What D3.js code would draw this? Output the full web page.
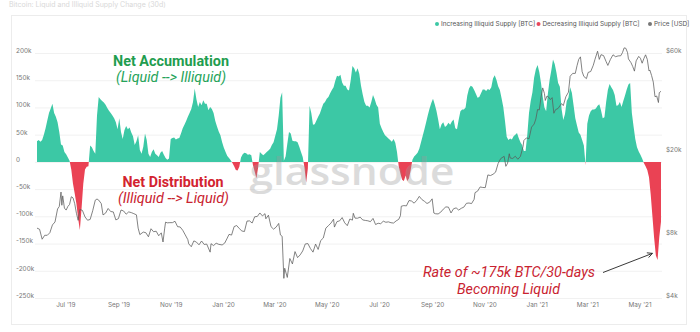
<!DOCTYPE html>
<html><head><meta charset="utf-8">
<script src="https://cdn.jsdelivr.net/npm/d3@7"></script>
<style>body{margin:0;background:#fff;} svg{display:block;}</style>
</head><body><svg id="c" width="700" height="332"></svg>
<script>
// ---------- DATA ----------
const areaStart = "2019-05-29";
const areaStepDays = 2;
// Net change of illiquid supply (thousands of BTC), every 2 days
const supplyChangeK = [
38,40,37,40,50,62,76,90,98,107,
90,83,73,55,32,30,18,14,8,2,
-14,-40,-58,-77,-104,-125,-85,-40,-14,-9,
-8,30,27,20,15,85,119,115,112,109,
105,99,94,90,85,80,73,60,80,55,
42,58,66,60,63,54,47,31,38,49,
22,15,28,52,40,15,9,18,23,15,
12,9,17,20,13,7,4,6,42,44,
45,41,43,44,52,62,68,75,83,90,
97,110,135,115,101,110,104,113,107,107,
95,101,97,90,75,65,56,49,36,26,
18,11,7,3,-2,-8,-15,-16,-9,8,
14,17,16,13,14,12,-6,-18,-30,-10,
18,15,12,15,18,21,24,31,36,48,
60,85,118,128,2,10,33,55,52,39,
38,38,36,28,18,9,-10,-38,-12,103,
90,68,69,76,83,89,98,107,110,116,
119,126,132,137,149,158,157,160,146,140,
140,133,131,150,176,172,164,172,162,140,
124,110,103,103,100,110,123,115,105,100,
70,62,55,49,46,43,40,37,42,35,
18,-8,-22,-33,-35,-25,-35,-30,-15,4,
10,13,17,24,36,48,60,73,86,98,
108,116,106,94,78,60,69,73,64,67,
72,68,74,78,62,60,78,93,96,96,
100,122,135,140,138,132,125,118,119,126,
133,133,130,134,132,137,153,159,151,139,
132,117,101,75,46,40,43,41,47,50,
53,44,36,31,20,20,50,90,112,128,
155,170,178,165,145,120,100,93,125,150,
168,188,180,164,145,138,97,77,88,112,
118,137,127,104,80,67,54,50,40,30,
-6,70,85,93,96,96,98,103,106,95,
80,82,110,132,143,137,132,123,103,104,
110,101,112,122,133,142,145,90,65,42,
27,19,13,6,-2,-8,-15,-28,-60,-100,
-140,-172,-180,-138,-110
];

const priceDates = [
"2019-05-29","2019-06-01","2019-06-04","2019-06-07","2019-06-10","2019-06-13","2019-06-16","2019-06-19","2019-06-22","2019-06-24","2019-06-26","2019-06-27","2019-06-28","2019-06-30",
"2019-07-02","2019-07-04","2019-07-06","2019-07-08","2019-07-10","2019-07-12","2019-07-14","2019-07-16","2019-07-18","2019-07-21","2019-07-24","2019-07-27","2019-07-30",
"2019-08-02","2019-08-05","2019-08-07","2019-08-09","2019-08-12","2019-08-14","2019-08-17","2019-08-20","2019-08-23","2019-08-26","2019-08-29",
"2019-09-01","2019-09-04","2019-09-07","2019-09-10","2019-09-13","2019-09-16","2019-09-19","2019-09-22","2019-09-24","2019-09-26","2019-09-30",
"2019-10-03","2019-10-06","2019-10-09","2019-10-12","2019-10-15","2019-10-18","2019-10-21","2019-10-23","2019-10-25","2019-10-26","2019-10-28","2019-10-31",
"2019-11-03","2019-11-06","2019-11-09","2019-11-12","2019-11-15","2019-11-18","2019-11-21","2019-11-22","2019-11-25","2019-11-28",
"2019-12-01","2019-12-04","2019-12-07","2019-12-10","2019-12-13","2019-12-17","2019-12-18","2019-12-21","2019-12-24","2019-12-27","2019-12-31",
"2020-01-03","2020-01-06","2020-01-08","2020-01-11","2020-01-14","2020-01-17","2020-01-20","2020-01-23","2020-01-26","2020-01-29",
"2020-02-01","2020-02-04","2020-02-07","2020-02-10","2020-02-13","2020-02-16","2020-02-19","2020-02-20","2020-02-23","2020-02-26","2020-02-29",
"2020-03-03","2020-03-06","2020-03-08","2020-03-10","2020-03-12","2020-03-13","2020-03-16","2020-03-19","2020-03-22","2020-03-25","2020-03-28","2020-03-31",
"2020-04-03","2020-04-06","2020-04-09","2020-04-12","2020-04-15","2020-04-18","2020-04-21","2020-04-24","2020-04-27","2020-04-30",
"2020-05-03","2020-05-06","2020-05-09","2020-05-10","2020-05-13","2020-05-16","2020-05-19","2020-05-22","2020-05-25","2020-05-28","2020-05-31",
"2020-06-01","2020-06-03","2020-06-06","2020-06-09","2020-06-12","2020-06-15","2020-06-18","2020-06-21","2020-06-24","2020-06-27","2020-06-30",
"2020-07-03","2020-07-06","2020-07-09","2020-07-12","2020-07-15","2020-07-18","2020-07-21","2020-07-24","2020-07-26","2020-07-27","2020-07-30",
"2020-08-02","2020-08-05","2020-08-08","2020-08-11","2020-08-14","2020-08-17","2020-08-20","2020-08-23","2020-08-26","2020-08-29",
"2020-09-01","2020-09-03","2020-09-05","2020-09-08","2020-09-11","2020-09-14","2020-09-17","2020-09-20","2020-09-23","2020-09-26","2020-09-29",
"2020-10-02","2020-10-05","2020-10-08","2020-10-11","2020-10-14","2020-10-17","2020-10-20","2020-10-21","2020-10-24","2020-10-27","2020-10-30",
"2020-11-02","2020-11-05","2020-11-08","2020-11-11","2020-11-14","2020-11-17","2020-11-20","2020-11-24","2020-11-26","2020-11-28","2020-11-30",
"2020-12-01","2020-12-04","2020-12-07","2020-12-10","2020-12-13","2020-12-16","2020-12-17","2020-12-20","2020-12-23","2020-12-26","2020-12-29","2020-12-31",
"2021-01-02","2021-01-04","2021-01-06","2021-01-08","2021-01-10","2021-01-11","2021-01-13","2021-01-15","2021-01-17","2021-01-19","2021-01-21","2021-01-23","2021-01-26","2021-01-28","2021-01-30",
"2021-02-01","2021-02-04","2021-02-07","2021-02-09","2021-02-12","2021-02-15","2021-02-17","2021-02-19","2021-02-21","2021-02-23","2021-02-25","2021-02-28",
"2021-03-02","2021-03-05","2021-03-08","2021-03-10","2021-03-13","2021-03-15","2021-03-17","2021-03-20","2021-03-23","2021-03-25","2021-03-28","2021-03-31",
"2021-04-03","2021-04-06","2021-04-09","2021-04-11","2021-04-13","2021-04-15","2021-04-17","2021-04-18","2021-04-21","2021-04-23","2021-04-25","2021-04-27","2021-04-30",
"2021-05-02","2021-05-04","2021-05-06","2021-05-08","2021-05-10","2021-05-12","2021-05-13","2021-05-15","2021-05-17","2021-05-19","2021-05-21","2021-05-23","2021-05-24","2021-05-26"
];
const priceUSD = [
8660,8550,7660,8000,8000,8230,8970,9270,10700,11000,12900,11150,12370,10800,
10570,11000,11250,12250,12100,11350,10200,9440,10650,10530,9800,9450,9530,
10500,11800,11950,11800,11350,10020,10220,10760,10400,10360,9480,
9620,10580,10470,10100,10360,10280,10160,10030,8660,8060,8290,
8230,7870,8600,8320,8370,7960,8220,7430,8660,9250,9180,9200,
9200,9340,8800,8770,8460,8030,7620,7280,7050,7520,
7420,7200,7510,7230,7260,6640,7290,7140,7330,7240,7190,
7340,7760,8080,8020,8810,8910,8620,8390,8340,9360,
9380,9160,9820,9850,10240,9910,10160,9600,9990,8800,8560,
8760,9120,8030,7910,4970,5560,5020,6190,5830,6680,6250,6440,
6730,7270,7300,6910,6640,7260,6840,7550,7760,8660,
8900,9160,9560,8760,9310,9380,9730,9180,8900,9580,9460,
10200,9670,9660,9780,9480,9430,9390,9300,9640,9010,9140,
9090,9350,9240,9280,9190,9160,9380,9540,9930,11030,11110,
11070,11750,11680,11410,11770,12300,11880,11650,11370,11530,
11970,10230,10150,10130,10330,10680,10950,10920,10240,10730,10830,
10570,10780,10920,11390,11430,11360,11910,12820,13030,13650,13570,
13550,15590,15480,15700,16070,17700,18680,19150,17150,17730,19700,
18800,18700,19170,18540,19140,21300,22800,23480,23240,26440,27360,28950,
32120,31970,36770,40800,38350,35500,37320,36800,35850,36630,30830,32080,32520,33460,34300,
33540,37000,38900,46400,47900,47900,52100,55900,57500,48800,46300,45200,
48400,48900,52400,56000,61200,55900,58900,58300,54500,52300,55900,58800,
57600,58100,58200,60200,63500,63200,60200,56200,53900,51700,49100,55000,57800,
56600,53600,56400,58800,55900,49200,49700,46800,43500,37000,37300,34700,38700,39300
];

const leftTicksK = [200,150,100,50,0,-50,-100,-150,-200,-250];
const leftTickLabels = ["200k","150k","100k","50k","0","-50k","-100k","-150k","-200k","-250k"];
const rightTicks = [60000,20000,8000,4000];
const rightTickLabels = ["$60k","$20k","$8k","$4k"];
const monthTicks = ["2019-07-01","2019-09-01","2019-11-01","2020-01-01","2020-03-01","2020-05-01","2020-07-01","2020-09-01","2020-11-01","2021-01-01","2021-03-01","2021-05-01"];
const monthTickLabels = ["Jul '19","Sep '19","Nov '19","Jan '20","Mar '20","May '20","Jul '20","Sep '20","Nov '20","Jan '21","Mar '21","May '21"];
const legendLabels = ["Increasing Illiquid Supply [BTC]","Decreasing Illiquid Supply [BTC]","Price [USD]"];
const legendColors = ["#3cc8a5","#e8475a","#777777"];

// ---------- CHART ----------
const GREEN = "#3cc8a5", RED = "#ea4254";
const svg = d3.select("#c");
const parse = d3.utcParse("%Y-%m-%d");
const t0 = parse(areaStart);
const areaData = supplyChangeK.map((v,i)=>({date:d3.utcDay.offset(t0, i*areaStepDays), v}));
const priceData = priceDates.map((d,i)=>({date:parse(d), p:priceUSD[i]}));

const x = d3.scaleUtc().domain(d3.extent(areaData, d=>d.date)).range([37, 661]);
const yL = d3.scaleLinear().domain([-250, 200]).range([298, 53]);
const yR = d3.scaleLog().domain([4000, 60000]).range([298, 53]);

// faint title
svg.append("text").attr("x", 9).attr("y", 7).attr("font-family","Inter, sans-serif")
  .attr("font-size", 7).attr("fill", "#d8d8d8").text("Bitcoin: Liquid and Illiquid Supply Change (30d)");

// frame
svg.append("rect").attr("x",11.5).attr("y",15.5).attr("width",675).attr("height",309)
  .attr("fill","none").attr("stroke","#ececec");

// legend
const leg = svg.append("g").attr("font-family","Inter, sans-serif").attr("font-size",6.4).attr("fill","#555");
const legX = [437, 538.5, 650];
legendLabels.forEach((l,i)=>{
  leg.append("circle").attr("cx",legX[i]).attr("cy",24).attr("r",2).attr("fill",legendColors[i]);
  leg.append("text").attr("x",legX[i]+4).attr("y",26.3).text(l);
});

// gridlines
svg.append("g").selectAll("line").data(leftTicksK).join("line")
  .attr("x1",35).attr("x2",662).attr("y1",d=>yL(d)+0.5).attr("y2",d=>yL(d)+0.5)
  .attr("stroke","#f1f1f1");

// axes
const axisFont = g => g.selectAll("text").attr("font-family","Inter, sans-serif").attr("font-size",6.4).attr("fill","#777");
const gl = svg.append("g").attr("transform","translate(16,0)")
  .call(d3.axisRight(yL).tickValues(leftTicksK).tickSize(0).tickPadding(0).tickFormat((d,i)=>leftTickLabels[i]));
gl.select(".domain").remove(); gl.call(axisFont); gl.selectAll("text").attr("dy","-0.1em");
const gr = svg.append("g").attr("transform","translate(666,0)")
  .call(d3.axisRight(yR).tickValues(rightTicks).tickSize(0).tickPadding(0).tickFormat((d,i)=>rightTickLabels[i]));
gr.select(".domain").remove(); gr.call(axisFont); gr.selectAll("text").attr("dy","-0.1em");
const gb = svg.append("g").attr("transform","translate(0,302)")
  .call(d3.axisBottom(x).tickValues(monthTicks.map(parse)).tickSize(0).tickPadding(0).tickFormat((d,i)=>monthTickLabels[i]));
gb.select(".domain").remove(); gb.call(axisFont);

// areas
const defs = svg.append("defs");
defs.append("clipPath").attr("id","clipPos").append("rect").attr("x",0).attr("y",0).attr("width",700).attr("height",yL(0));
defs.append("clipPath").attr("id","clipNeg").append("rect").attr("x",0).attr("y",yL(0)).attr("width",700).attr("height",332-yL(0));
const areaGen = d3.area().x(d=>x(d.date)).y0(yL(0)).y1(d=>yL(d.v));
svg.append("path").datum(areaData).attr("d",areaGen).attr("fill",GREEN).attr("clip-path","url(#clipPos)");
svg.append("path").datum(areaData).attr("d",areaGen).attr("fill",RED).attr("clip-path","url(#clipNeg)");

// watermark
svg.append("text").attr("x",352).attr("y",185).attr("text-anchor","middle")
  .attr("font-family","'Open Sans', sans-serif").attr("font-size",38).attr("font-weight",600)
  .attr("fill","#9a9a9a").attr("opacity",0.35).attr("textLength",205).attr("lengthAdjust","spacingAndGlyphs")
  .text("glassnode");

// price line
svg.append("path").datum(priceData)
  .attr("d", d3.line().x(d=>x(d.date)).y(d=>yR(d.p)))
  .attr("fill","none").attr("stroke","#5a5a5a").attr("stroke-width",0.75).attr("stroke-linejoin","round");

// annotations
const ann = svg.append("g").attr("font-family","Roboto, sans-serif").attr("text-anchor","middle");
const addText = (t, cx, y, w, size, color, bold, italic) =>
  ann.append("text").attr("x",cx).attr("y",y).attr("font-size",size).attr("fill",color)
    .attr("font-weight",bold?700:400).attr("font-style",italic?"italic":"normal")
    .attr("textLength",w).attr("lengthAdjust","spacingAndGlyphs").text(t);
addText("Net Accumulation", 171, 66, 116, 15.5, "#1f9d4f", true, false);
addText("(Liquid --> Illiquid)", 171, 82, 110, 14.5, "#26a45a", false, true);
addText("Net Distribution", 173, 187, 101, 15.5, "#d3232f", true, false);
addText("(Illiquid --> Liquid)", 173.5, 203, 111, 14.5, "#c92330", false, true);
addText("Rate of ~175k BTC/30-days", 509, 277, 172, 15, "#c92330", false, true);
addText("Becoming Liquid", 508.5, 294, 103, 15, "#c92330", false, true);

// arrow to trough
defs.append("marker").attr("id","arr").attr("viewBox","0 0 10 10").attr("refX",9).attr("refY",5)
  .attr("markerWidth",7).attr("markerHeight",7).attr("orient","auto")
  .append("path").attr("d","M1,1 L9,5 L1,9").attr("fill","none").attr("stroke","#222").attr("stroke-width",1.3);
svg.append("line").attr("x1",603).attr("y1",272.5)
  .attr("x2",x(parse("2021-05-16"))).attr("y2",yL(-168))
  .attr("stroke","#222").attr("stroke-width",0.9).attr("marker-end","url(#arr)");
</script></body></html>
